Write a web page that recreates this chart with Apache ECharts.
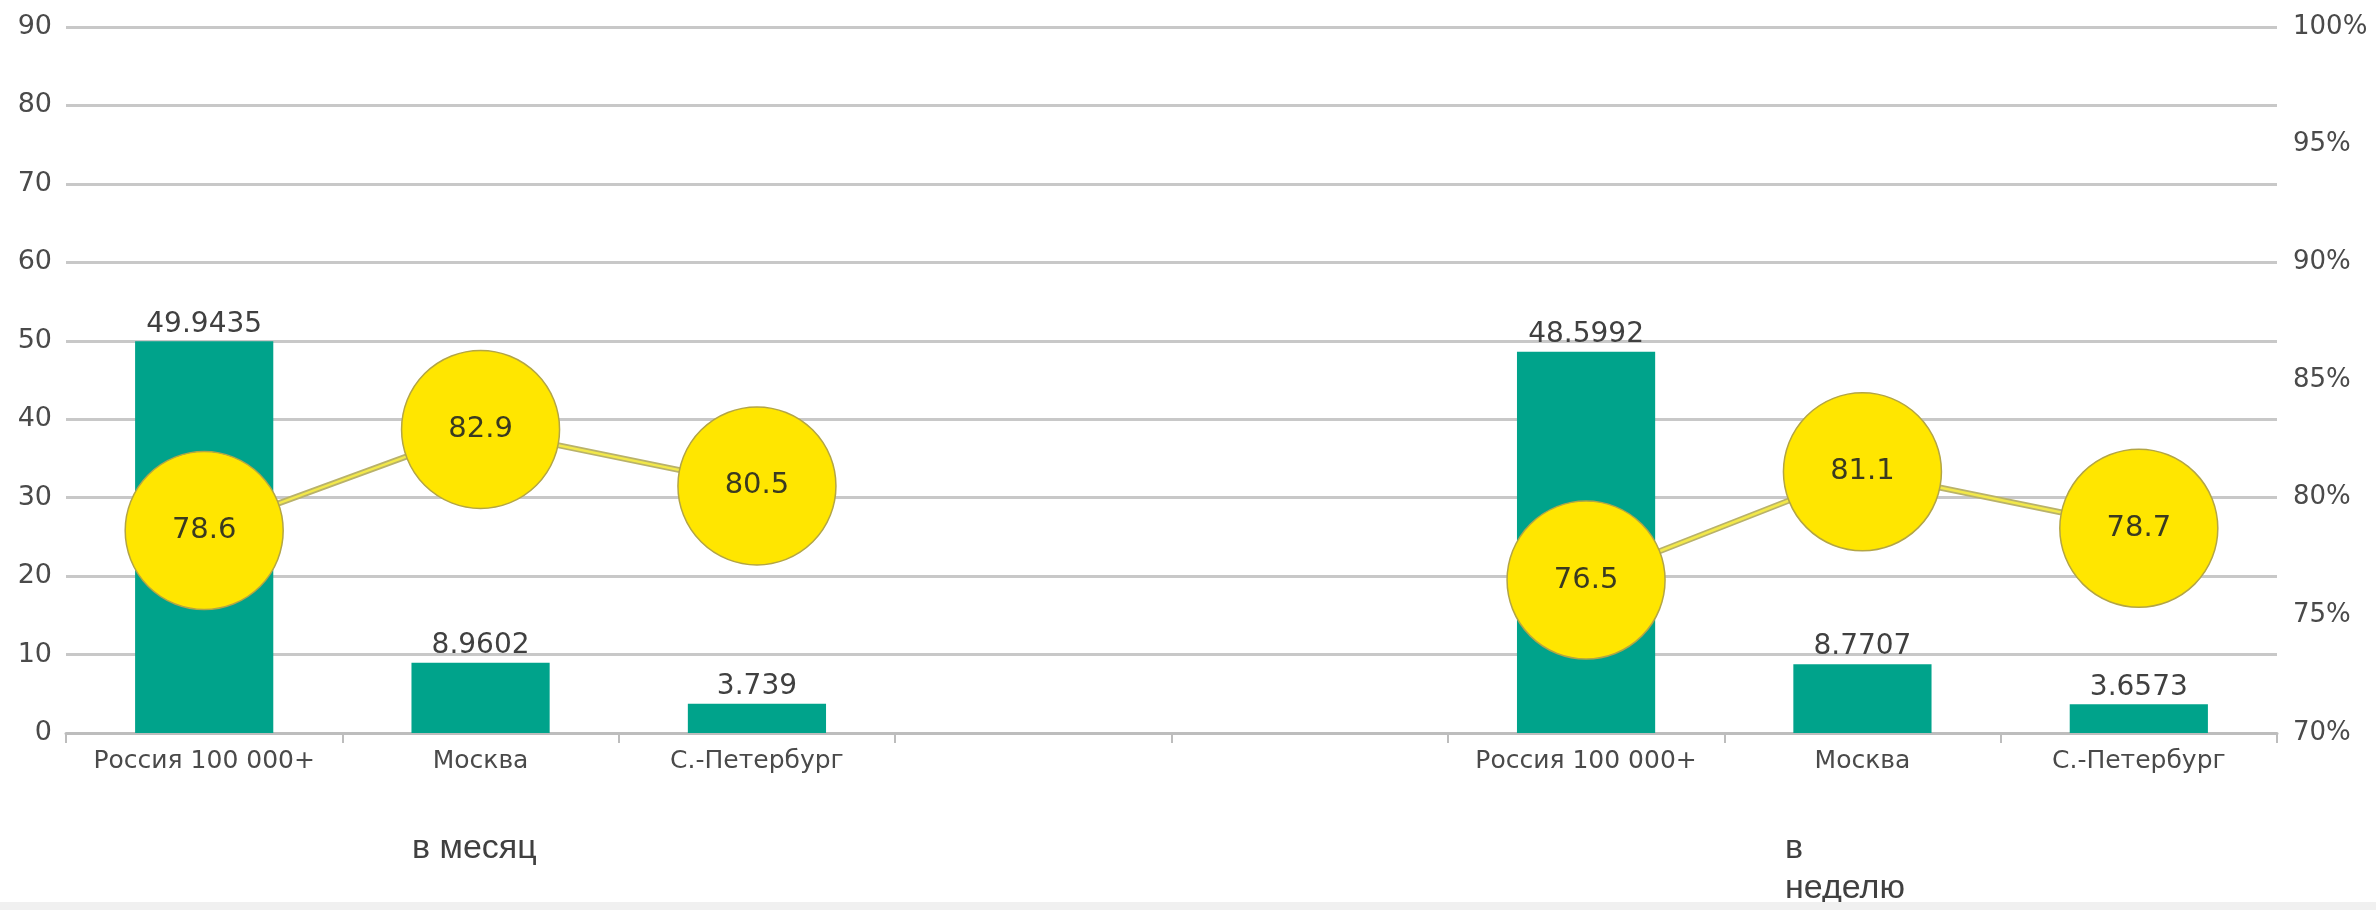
<!DOCTYPE html>
<html>
<head>
<meta charset="utf-8">
<script src="https://cdn.jsdelivr.net/npm/echarts@6/dist/echarts.min.js"></script>
<style>
  html, body { margin: 0; padding: 0; background: #fff; }
  #chart { width: 2376px; height: 910px; }
</style>
</head>
<body>
<div id="chart"></div>
<script>
// категории (две группы: в месяц / в неделю, между ними пустые места)
const categories = ['Россия 100 000+', 'Москва', 'С.-Петербург', '', '', 'Россия 100 000+', 'Москва', 'С.-Петербург']
// столбцы, левая ось
const barValues = [49.9435, 8.9602, 3.739, null, null, 48.5992, 8.7707, 3.6573]
// доля, %, правая ось
const shareValues = [78.6, 82.9, 80.5, null, null, 76.5, 81.1, 78.7]
const groupLabels = ['в месяц', 'в\nнеделю']

const chart = echarts.init(document.getElementById('chart'))
const fontColor = '#4a4a4a'
const chartFont = 'DejaVu Sans'

const options = {
  animation: false,
  backgroundColor: '#fff',
  grid: {
    left: 66,
    right: 99,
    top: 27,
    bottom: 177
  },
  xAxis: [{
    type: 'category',
    data: categories,
    boundaryGap: true,
    axisLine: {
      show: true,
      lineStyle: { color: '#bdbdbd', width: 3 }
    },
    axisTick: {
      show: true,
      interval: 0,
      length: 10,
      lineStyle: { color: '#bdbdbd', width: 2 }
    },
    axisLabel: {
      interval: 0,
      margin: 16,
      color: fontColor,
      fontFamily: chartFont,
      fontSize: 25
    }
  }],
  yAxis: [{
    type: 'value',
    min: 0,
    max: 90,
    interval: 10,
    axisLine: { show: false },
    axisTick: { show: false },
    axisLabel: {
      margin: 14,
      color: fontColor,
      fontFamily: chartFont,
      fontSize: 27
    },
    splitLine: {
      show: true,
      lineStyle: { color: '#c8c8c8', width: 3 }
    }
  }, {
    type: 'value',
    min: 70,
    max: 100,
    interval: 5,
    position: 'right',
    axisLine: { show: false },
    axisTick: { show: false },
    splitLine: { show: false },
    axisLabel: {
      margin: 16,
      formatter: '{value}%',
      color: fontColor,
      fontFamily: chartFont,
      fontSize: 26
    }
  }],
  graphic: [{
    type: 'text',
    left: 412,
    top: 829,
    style: {
      text: groupLabels[0],
      fill: '#404040',
      font: '34px "Liberation Sans"',
      lineHeight: 40
    }
  }, {
    type: 'text',
    left: 1785,
    top: 829,
    style: {
      text: groupLabels[1],
      fill: '#404040',
      font: '34px "Liberation Sans"',
      lineHeight: 40
    }
  }, {
    type: 'rect',
    left: 0,
    top: 902,
    z: 100,
    shape: { width: 2376, height: 8 },
    style: { fill: '#f0f0f0' }
  }],
  series: [{
    name: 'bars',
    type: 'bar',
    yAxisIndex: 0,
    barWidth: '50%',
    itemStyle: { color: '#00a38b' },
    label: {
      show: true,
      position: 'top',
      distance: 3,
      color: '#404040',
      fontFamily: chartFont,
      fontSize: 28
    },
    z: 2,
    data: barValues
  }, {
    // подложка линии (серый контур)
    name: 'share-outline',
    type: 'line',
    yAxisIndex: 1,
    silent: true,
    symbol: 'none',
    lineStyle: { color: '#b9b26a', width: 6 },
    z: 3,
    data: shareValues
  }, {
    name: 'share',
    type: 'line',
    yAxisIndex: 1,
    symbol: 'circle',
    symbolSize: 158,
    lineStyle: { color: '#f2e84a', width: 2.5 },
    itemStyle: {
      color: '#ffe600',
      borderColor: '#b3a545',
      borderWidth: 1.5
    },
    label: {
      show: true,
      position: 'inside',
      color: '#3a3a20',
      fontFamily: chartFont,
      fontSize: 29
    },
    z: 4,
    data: shareValues
  }]
}
chart.setOption(options)
</script>
</body>
</html>
